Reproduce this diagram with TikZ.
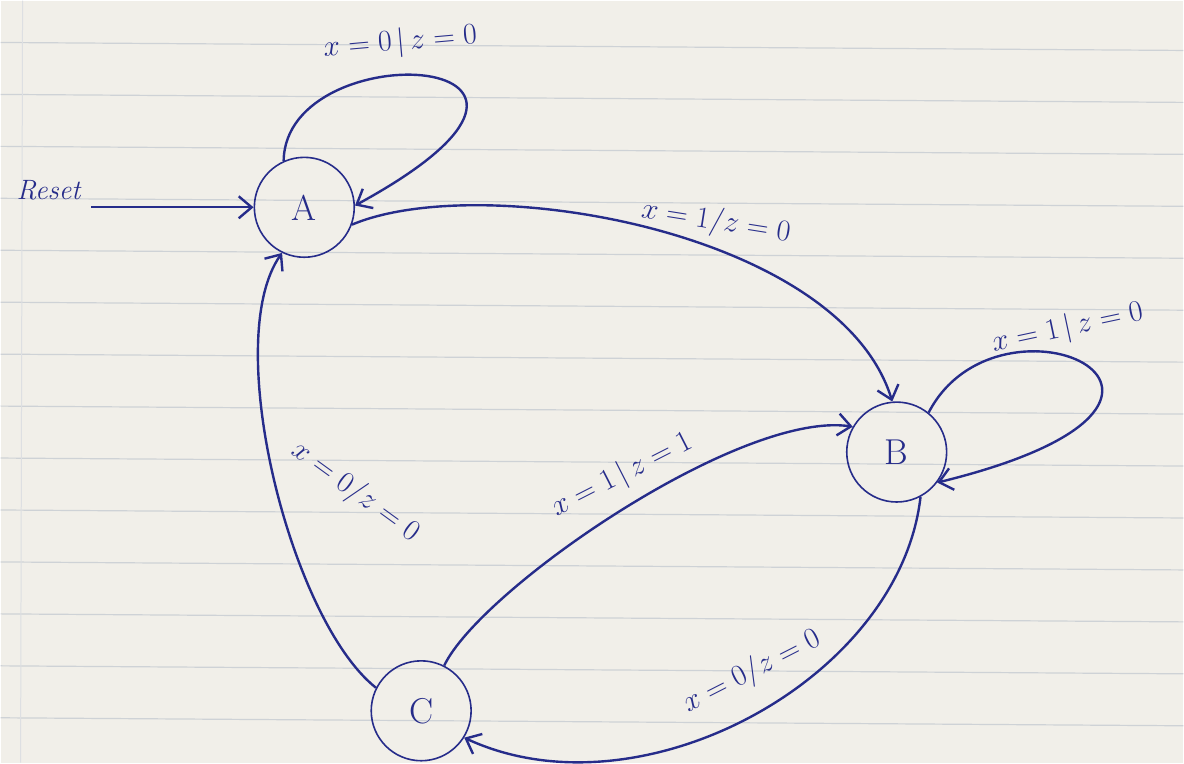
\RequirePackage{fix-cm}
\documentclass[tikz,border=0pt]{standalone}
\usepackage{amsmath,amssymb}
\usetikzlibrary{arrows.meta}
\tikzset{every picture/.style={line width=2.4pt}}
\definecolor{inkblue}{RGB}{38,44,138}
\definecolor{paper}{RGB}{241,239,233}
\definecolor{ruling}{RGB}{206,210,214}

\begin{document}
\begin{tikzpicture}[
    x=1pt, y=-1pt,
    state/.style={
        circle, draw=inkblue, line width=1.6pt, inner sep=0pt,
        minimum size=100pt, text=inkblue,
        font=\fontsize{36}{42}\selectfont
    },
    edge/.style={
        draw=inkblue, line width=2.4pt,
        -{Straight Barb[length=13pt, width=22pt, line width=2.4pt]}
    },
    trans/.style={
        text=inkblue, inner sep=2pt, font=\fontsize{30}{36}\selectfont
    },
]

%% ===================== PAPER =====================
\fill[paper] (0,0) rectangle (1184,763);
\foreach \k in {1,...,14} {
  \pgfmathsetmacro{\ya}{-10+52*\k}
  \pgfmathsetmacro{\yb}{-2+52*\k}
  \draw[ruling, line width=1.2pt] (0,\ya) -- (1184,\yb);
}
\draw[ruling!70, line width=1pt] (22,0) -- (20,763);
\useasboundingbox (0,0) rectangle (1184,763);

%% ===================== STATES =====================
\node[state] (A) at (304,207) {A};
\node[state] (B) at (897,452) {B};
\node[state] (C) at (421,711) {C};

\node[text=inkblue, font=\fontsize{28}{32}\selectfont\itshape]
  (reset) at (48,190) {Reset};

%% ===================== TRANSITIONS =====================
% reset arrow
\draw[edge] ([xshift=6pt]reset.east |- A) -- (A);

% self loop on A
\draw[edge] (A.114) .. controls (285,30) and (640,50) .. (A.2);
\node[trans, rotate=5] (lAA) at (400,42) {$x=0\,|\,z=0$};

% A -> B
\draw[edge] (A.-20) .. controls (480,170) and (840,230) .. (B.95);
\node[trans, rotate=-9] (lAB) at (716,222) {$x=1/z=0$};

% self loop on B
\draw[edge] (B.51) .. controls (1000,275) and (1275,400) .. (B.-37);
\node[trans, rotate=12] (lBB) at (1068,328) {$x=1\,|\,z=0$};

% C -> B
\draw[edge] (C.63) .. controls (480,590) and (740,410) .. (B.150);
\node[trans, rotate=27] (lCB) at (622,475) {$x=1\,|\,z=1$};

% B -> C
\draw[edge] (B.-62) .. controls (900,680) and (640,820) .. (C.-32);
\node[trans, rotate=27] (lBC) at (752,672) {$x=0/z=0$};

% C -> A
\draw[edge] (C.153) .. controls (290,620) and (220,340) .. (A.-116);
\node[trans, rotate=-36] (lCA) at (355,492) {$x=0/z=0$};

\end{tikzpicture}
\end{document}
